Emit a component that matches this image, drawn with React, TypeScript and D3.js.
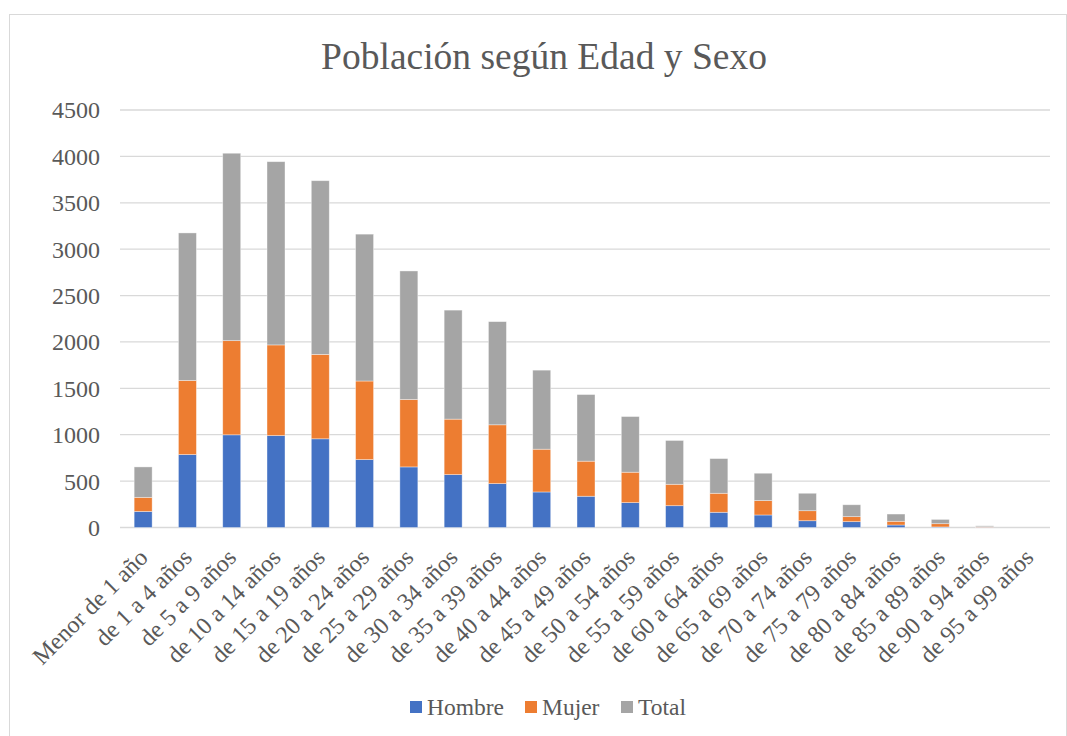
import React from "react";
import * as d3 from "d3";

const categories = [
  "Menor de 1 año", "de 1 a 4 años", "de 5 a 9 años", "de 10 a 14 años", "de 15 a 19 años",
  "de 20 a 24 años", "de 25 a 29 años", "de 30 a 34 años", "de 35 a 39 años", "de 40 a 44 años",
  "de 45 a 49 años", "de 50 a 54 años", "de 55 a 59 años", "de 60 a 64 años", "de 65 a 69 años",
  "de 70 a 74 años", "de 75 a 79 años", "de 80 a 84 años", "de 85 a 89 años", "de 90 a 94 años",
  "de 95 a 99 años",
];
const hombre = [173, 786, 999, 991, 956, 732, 653, 570, 473, 383, 337, 268, 235, 164, 135, 73, 63, 27, 6, 3, 0];
const mujer = [152, 799, 1015, 977, 910, 847, 727, 598, 634, 461, 378, 328, 231, 205, 155, 108, 54, 40, 35, 5, 0];
const total = [328, 1590, 2020, 1975, 1872, 1583, 1385, 1175, 1112, 852, 718, 600, 472, 374, 295, 188, 128, 78, 46, 10, 0];
const seriesNames = ["Hombre", "Mujer", "Total"];
const seriesColors = ["#4472C4", "#ED7D31", "#A5A5A5"];
const yTicks = [0, 500, 1000, 1500, 2000, 2500, 3000, 3500, 4000, 4500];
const title = "Población según Edad y Sexo";

export default function App() {
  const W = 1067, H = 736;
  const left = 121, right = 1051, top = 110, bottom = 527.5;
  const font = "'Liberation Serif', 'Times New Roman', serif";
  const textColor = "#595959";

  const x = d3.scaleBand<string>().domain(categories).range([left, right]).paddingInner(0.594).paddingOuter(0.297);
  const y = d3.scaleLinear().domain([0, 4500]).range([bottom, top]);

  const rows = categories.map((c, i) => ({ cat: c, Hombre: hombre[i], Mujer: mujer[i], Total: total[i] }));
  const stack = d3.stack<any>().keys(seriesNames)(rows);

  const legendItems = [
    { name: "Hombre", sx: 410, tx: 427 },
    { name: "Mujer", sx: 525, tx: 542 },
    { name: "Total", sx: 621, tx: 638 },
  ];

  return (
    <svg width={W} height={H} style={{ position: "absolute", left: 0, top: 0, background: "#fff" }}>
      <rect x={9.5} y={14.5} width={1057} height={730} fill="#fff" stroke="#d9d9d9" strokeWidth={1} />
      <text x={544} y={69} textAnchor="middle" fontFamily={font} fontSize={37.5} fill={textColor}>{title}</text>
      {yTicks.map((t) => (
        <g key={t}>
          <line x1={left - 1} x2={right - 1} y1={y(t)} y2={y(t)} stroke="#d9d9d9" strokeWidth={1.3} />
          <text x={100} y={y(t)} dy="0.35em" textAnchor="end" fontFamily={font} fontSize={24} fill={textColor}>{t}</text>
        </g>
      ))}
      {stack.map((s, si) => (
        <g key={s.key} fill={seriesColors[si]}>
          {s.map((d, i) => {
            const h = y(d[0]) - y(d[1]);
            if (h <= 0) return null;
            return (
              <rect key={i} x={x(categories[i])!} y={y(d[1])} width={x.bandwidth()} height={h}
                stroke="#ffffff" strokeOpacity={0.5} strokeWidth={0.75} />
            );
          })}
        </g>
      ))}
      {categories.map((c) => {
        const cx = x(c)! + x.bandwidth() / 2;
        return (
          <text key={c} transform={`translate(${cx + 6},${559}) rotate(-45)`} textAnchor="end"
            fontFamily={font} fontSize={24} fill={textColor}>{c}</text>
        );
      })}
      {legendItems.map((l, i) => (
        <g key={l.name}>
          <rect x={l.sx} y={701} width={12} height={12} fill={seriesColors[i]} />
          <text x={l.tx} y={715} fontFamily={font} fontSize={23.5} fill={textColor}>{l.name}</text>
        </g>
      ))}
    </svg>
  );
}
